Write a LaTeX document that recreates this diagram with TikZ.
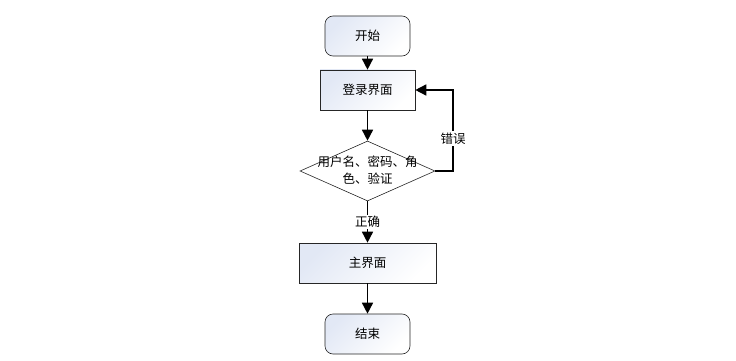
\documentclass[tikz,border=0pt]{standalone}
\usepackage{fontspec}
\newfontfamily\cjk{Noto Sans CJK SC}
\usetikzlibrary{positioning,arrows.meta,shapes.geometric}
\definecolor{shadefill}{RGB}{226,232,245}

\begin{document}
\begin{tikzpicture}[x=1pt, y=-1pt, font=\cjk\fontsize{12.5}{16.5}\selectfont,
  term/.style={draw=black!85, rounded corners=8pt, line width=0.6pt,
    minimum width=85pt, minimum height=40pt,
    top color=shadefill, bottom color=white, shading angle=45},
  proc/.style={draw=black!85, line width=0.6pt, minimum height=40pt,
    top color=shadefill, bottom color=white, shading angle=45},
  chk/.style={draw=black!85, diamond, line width=0.6pt, minimum width=135pt,
    minimum height=60pt, inner sep=0pt, fill=white},
  lbl/.style={fill=white, inner sep=1.5pt},
  arr/.style={-{Triangle[length=11pt,width=11pt]}, draw=black, line width=1.5pt}]
\useasboundingbox (0,0) rectangle (736,361);
% main column
\node[term] (start) at (367.5,36) {开始};
\node[proc, minimum width=95pt] (login) at (367.5,90) {登录界面};
\node[chk] (check) at (367.5,171) {};
\node[align=center] (checktxt) at (367.5,170) {用户名、密码、角\\色、验证};
\node[proc, minimum width=137pt] (home) at (367.5,263) {主界面};
\node[term] (end) at (367.5,334) {结束};
% back loop
\coordinate (loop) at (453,171);
\draw[arr] (start.south) -- (login.north);
\draw[arr] (login.south) -- (check.north);
\draw[arr] (check.south) -- node[lbl] {正确} (home.north);
\draw[arr] (home.south) -- (end.north);
\draw[arr] (check.east) -- (loop) -- node[lbl, pos=0.4] {错误} (loop |- login.east) -- (login.east);
\end{tikzpicture}
\end{document}
